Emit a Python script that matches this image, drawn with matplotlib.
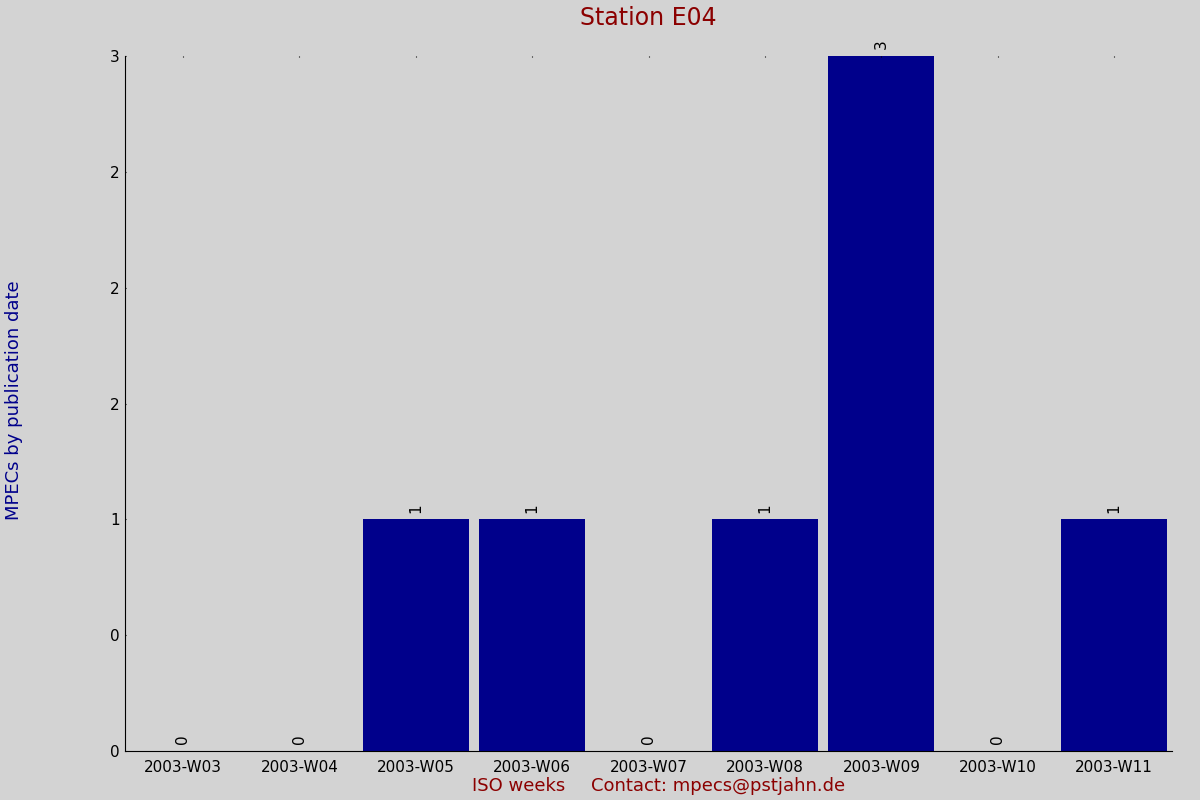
import matplotlib
matplotlib.use("Agg")
import matplotlib.pyplot as plt
import matplotlib.ticker as mticker

weeks = ["2003-W03", "2003-W04", "2003-W05", "2003-W06", "2003-W07",
         "2003-W08", "2003-W09", "2003-W10", "2003-W11"]
counts = [0, 0, 1, 1, 0, 1, 3, 0, 1]

BG = "#d3d3d3"

fig = plt.figure(figsize=(12, 8), dpi=100, facecolor=BG)
ax = fig.add_axes([0.104, 0.061, 0.873, 0.869], facecolor=BG)

xs = range(len(weeks))
ax.bar(xs, counts, width=0.91, color="#00008b")
for x, c in zip(xs, counts):
    ax.text(x, c + 0.03, str(c), rotation=90, ha="center", va="bottom", fontsize=11)

ax.set_xlim(-0.5, len(weeks) - 0.5)
ax.set_ylim(0, 3)
ax.set_xticks(list(xs))
ax.set_xticklabels(weeks, fontsize=11)
ax.set_yticks([0, 0.5, 1, 1.5, 2, 2.5, 3])
ax.yaxis.set_major_formatter(mticker.FuncFormatter(lambda v, _: f"{v:.0f}"))
ax.tick_params(axis="y", labelsize=11, length=6, direction="out")
ax.tick_params(axis="x", length=0, pad=6)
ax.tick_params(top=True, which="both", direction="in", length=1)
ax.tick_params(axis="x", bottom=False)
for s in ("top", "right"):
    ax.spines[s].set_visible(False)

fig.text(0.54, 0.977, "Station E04", ha="center", va="center", fontsize=17, color="#8b0000")
fig.text(0.012, 0.5, "MPECs by publication date", rotation=90, ha="center", va="center",
         fontsize=13, color="#00008b")
fig.text(0.432, 0.018, "ISO weeks", ha="center", va="center", fontsize=13, color="#8b0000")
fig.text(0.598, 0.018, "Contact: mpecs@pstjahn.de", ha="center", va="center", fontsize=13,
         color="#8b0000")

fig.savefig("out.png", facecolor=BG)
